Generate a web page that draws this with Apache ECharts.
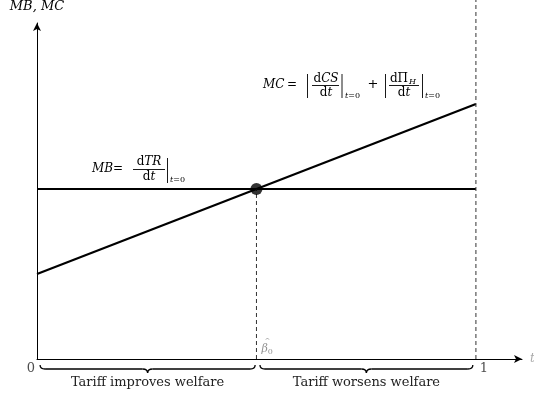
<!DOCTYPE html>
<html>
<head>
<meta charset="utf-8">
<script src="https://cdn.jsdelivr.net/npm/echarts@6/dist/echarts.min.js"></script>
<style>
  html, body { margin: 0; padding: 0; background: #fff; }
  #chart { width: 534px; height: 401px; }
</style>
</head>
<body>
<div id="chart"></div>
<script>
// data (t on the x axis, MB / MC on the y axis)
const tPoints = [0, 1];
const mbValues = [2, 2];
const mcValues = [1, 3];
const betaHat = 0.5;
const betaLevel = 2;
const dashTop = 4.224;
const tickPos = [0, 1];
const tickLabels = ['0', '1'];
const braceStart = [0.007, 0.508];
const braceEnd = [0.497, 0.993];
const braceLabels = ['Tariff improves welfare', 'Tariff worsens welfare'];

const serif = '"DejaVu Serif", serif';
const tickOffsets = [[-6, 0], [8, 0]];

function richFor (size) {
  return {
    i: { fontStyle: 'italic', fontSize: size, fontFamily: serif, fill: '#000' },
    u: { fontSize: size, fontFamily: serif, fill: '#000' }
  };
}

// one piece of the formulas
function tx (x, y, text, size, align, italic) {
  return {
    type: 'text', x: x, y: y, silent: true,
    style: {
      text: text, fontSize: size, fontFamily: serif,
      fontStyle: italic ? 'italic' : 'normal',
      fill: '#000', align: align, textAlign: align,
      verticalAlign: 'middle', textVerticalAlign: 'middle',
      rich: richFor(size)
    }
  };
}
function ln (x1, y1, x2, y2, w) {
  return { type: 'line', silent: true, shape: { x1: x1, y1: y1, x2: x2, y2: y2 }, style: { stroke: '#000', lineWidth: w || 0.9 } };
}

const formula = [
  // MB = dTR/dt |t=0
  tx(92, 169, '{i|MB}', 12, 'left'),
  tx(113, 169, '=', 12, 'left'),
  tx(149, 162, 'd{i|TR}', 12, 'center'),
  ln(133, 169.5, 165, 169.5),
  tx(149, 176.5, 'd{i|t}', 12, 'center'),
  ln(167.5, 158, 167.5, 183),
  tx(170, 180, '{i|t}=0', 8, 'left'),
  // MC = |dCS/dt|t=0 + |dΠH/dt|t=0
  tx(263, 85, '{i|MC}', 12, 'left'),
  tx(287, 85, '=', 12, 'left'),
  ln(307.5, 74, 307.5, 98),
  tx(326, 78.5, 'd{i|CS}', 12, 'center'),
  ln(312, 85.5, 339, 85.5),
  tx(326, 92.5, 'd{i|t}', 12, 'center'),
  ln(342, 74, 342, 98),
  tx(345, 96, '{i|t}=0', 8, 'left'),
  tx(373, 85, '+', 13, 'center'),
  ln(385.5, 74, 385.5, 98),
  tx(399, 78.5, 'dΠ', 12, 'center'),
  tx(409, 82, 'H', 8, 'left', true),
  ln(389, 85.5, 419, 85.5),
  tx(404, 92.5, 'd{i|t}', 12, 'center'),
  ln(422.5, 74, 422.5, 98),
  tx(425, 96, '{i|t}=0', 8, 'left')
];

const chart = echarts.init(document.getElementById('chart'));
chart.setOption({
  animation: false,
  grid: { left: 37, right: 12, top: 23, bottom: 42, containLabel: false, outerBoundsMode: 'none' },
  xAxis: {
    type: 'value', min: 0, max: 1.105,
    axisLine: { symbol: ['none', 'arrow'], symbolSize: [6, 8], lineStyle: { color: '#000', width: 1 } },
    axisTick: { show: false }, axisLabel: { show: false }, splitLine: { show: false },
    name: 't', nameGap: 8,
    nameTextStyle: { color: '#aaa', fontStyle: 'italic', fontFamily: serif, fontSize: 12 }
  },
  yAxis: {
    type: 'value', min: 0, max: 3.953,
    axisLine: { symbol: ['none', 'arrow'], symbolSize: [6, 8], lineStyle: { color: '#000', width: 1 } },
    axisTick: { show: false }, axisLabel: { show: false }, splitLine: { show: false },
    name: 'MB, MC', nameGap: 10,
    nameTextStyle: { color: '#000', fontStyle: 'italic', fontFamily: serif, fontSize: 13 }
  },
  graphic: formula,
  series: [
    {
      name: 'MB', type: 'line', symbol: 'none',
      data: tPoints.map((t, i) => [t, mbValues[i]]),
      lineStyle: { color: '#000', width: 1.8 }
    },
    {
      name: 'MC', type: 'line', symbol: 'none',
      data: tPoints.map((t, i) => [t, mcValues[i]]),
      lineStyle: { color: '#000', width: 2.2 }
    },
    {
      name: 'beta dash', type: 'line', symbol: 'none',
      data: [[betaHat, 0], [betaHat, betaLevel]],
      lineStyle: { color: '#333', width: 1, type: [4, 3] }
    },
    {
      name: 't=1 dash', type: 'line', symbol: 'none', clip: false,
      data: [[1, 0], [1, dashTop]],
      lineStyle: { color: '#333', width: 1, type: [4, 3] }
    },
    {
      name: 'equilibrium', type: 'scatter', symbolSize: 12,
      data: [[betaHat, betaLevel]],
      itemStyle: { color: '#000' }, z: 5
    },
    {
      name: 'beta label', type: 'scatter', symbolSize: 0,
      data: [[betaHat, 0]],
      label: {
        show: true, position: 'top', offset: [5, 2], align: 'left',
        formatter: '{h|^}\n{b|β}{s|0}',
        rich: {
          h: { fontFamily: serif, fontSize: 7, color: '#777', lineHeight: 4, padding: [0, 0, 0, 3] },
          b: { fontStyle: 'italic', fontFamily: serif, fontSize: 11, color: '#777', lineHeight: 13 },
          s: { fontFamily: serif, fontSize: 8, color: '#777', verticalAlign: 'bottom', lineHeight: 10 }
        }
      }
    },
    {
      name: 'ticks', type: 'scatter', symbolSize: 0,
      data: tickPos.map((p, i) => ({
        value: [p, 0],
        label: { offset: tickOffsets[i] }
      })),
      label: {
        show: true, position: 'bottom', distance: 3,
        formatter: (p) => tickLabels[p.dataIndex],
        fontFamily: serif, fontSize: 13, color: '#222'
      }
    },
    {
      name: 'braces', type: 'custom', clip: false, silent: true,
      data: braceStart.map((s, i) => [s, braceEnd[i]]),
      renderItem: (params, api) => {
        const a = api.coord([api.value(0), 0]);
        const b = api.coord([api.value(1), 0]);
        const x1 = a[0], x2 = b[0], xm = (x1 + x2) / 2, y = a[1] + 6;
        const d = 4, r = 5;
        const st = { stroke: '#000', fill: null, lineWidth: 1.3 };
        return {
          type: 'group',
          children: [
            { type: 'bezierCurve', shape: { x1: x1, y1: y, cpx1: x1, cpy1: y + d, x2: x1 + r, y2: y + d }, style: st },
            { type: 'line', shape: { x1: x1 + r, y1: y + d, x2: xm - r, y2: y + d }, style: st },
            { type: 'bezierCurve', shape: { x1: xm - r, y1: y + d, cpx1: xm, cpy1: y + d, x2: xm, y2: y + 2 * d }, style: st },
            { type: 'bezierCurve', shape: { x1: xm, y1: y + 2 * d, cpx1: xm, cpy1: y + d, x2: xm + r, y2: y + d }, style: st },
            { type: 'line', shape: { x1: xm + r, y1: y + d, x2: x2 - r, y2: y + d }, style: st },
            { type: 'bezierCurve', shape: { x1: x2 - r, y1: y + d, cpx1: x2, cpy1: y + d, x2: x2, y2: y }, style: st },
            {
              type: 'text',
              style: {
                text: braceLabels[params.dataIndex], x: xm, y: a[1] + 24,
                align: 'center', verticalAlign: 'middle',
                textAlign: 'center', textVerticalAlign: 'middle',
                fontFamily: serif, fontSize: 13, fill: '#222'
              }
            }
          ]
        };
      }
    }
  ]
});
</script>
</body>
</html>
